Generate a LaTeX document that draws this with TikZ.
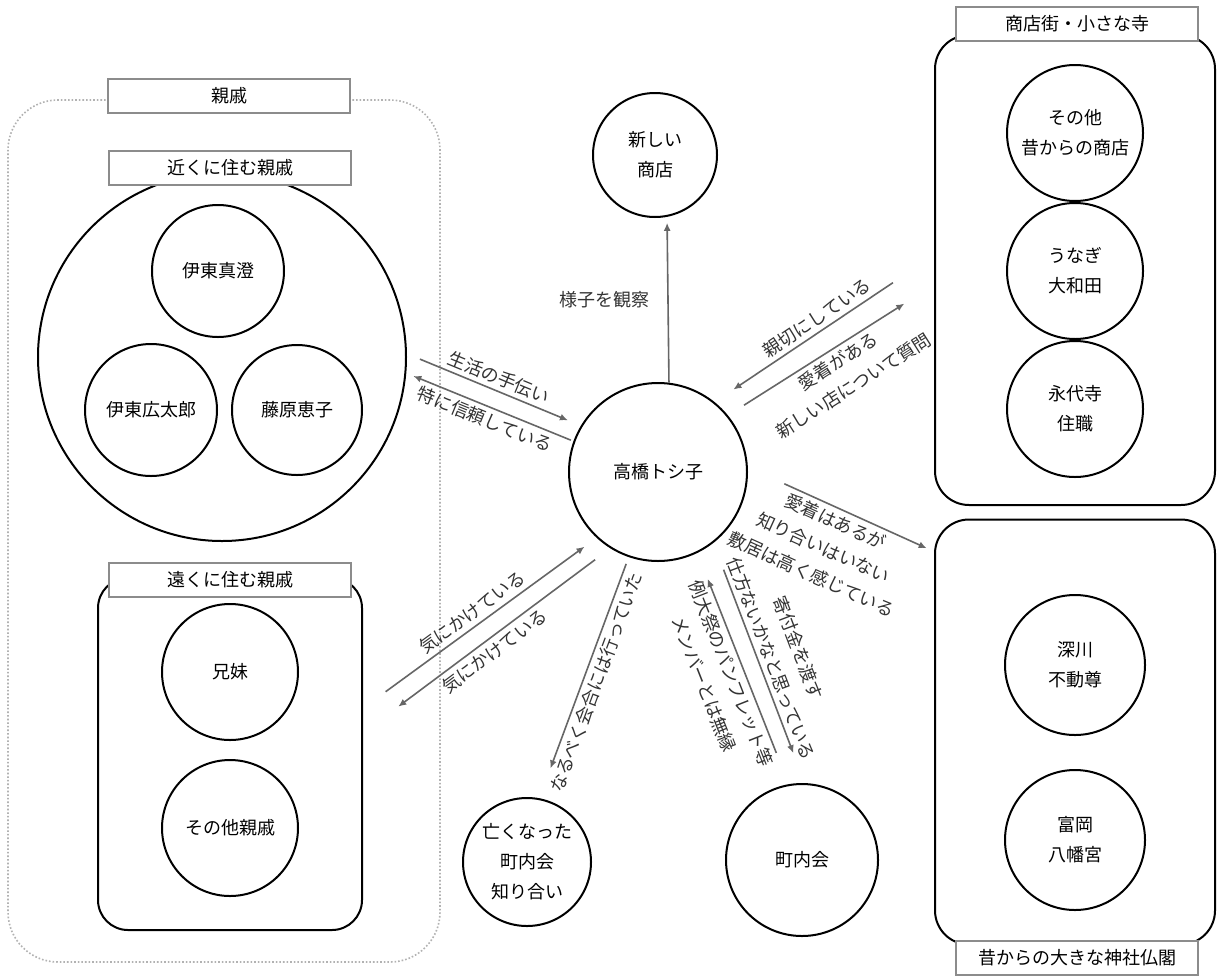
\documentclass[tikz,border=0pt]{standalone}
\usepackage{fontspec}
\setmainfont{Noto Sans CJK JP}
\usetikzlibrary{arrows.meta,positioning}

\begin{document}
\begin{tikzpicture}[
    x=0.5pt, y=-0.5pt,
    person/.style={circle, draw=black, line width=1pt, align=center, inner sep=0pt, font=\fontsize{9}{15}\selectfont},
    groupbox/.style={rectangle, rounded corners=17pt, draw=black, line width=1pt},
    headbox/.style={rectangle, draw=black!45, line width=1.2pt, fill=white, minimum width=121pt, minimum height=17pt, inner sep=0pt, font=\fontsize{9}{11}\selectfont},
    lbl/.style={font=\fontsize{9}{14.5}\selectfont, text=black!80, align=center, inner sep=2pt},
    arr/.style={->, draw=black!60, line width=0.8pt},
    >={Latex[length=4pt,width=3.5pt]}
]
\fill[white] (0,0) rectangle (1220,975);
\useasboundingbox (0,0) rectangle (1220,975);

% relatives
\node[draw=black!30, densely dotted, line width=0.8pt, rounded corners=25pt, minimum width=216pt, minimum height=431pt] (shinseki) at (224,531) {};
\node[headbox] (shinsekit) at (229,96) {親戚};
\node[person, minimum size=184pt] (kin) at (222,357) {};
\node[headbox] (kint) at (230,168) {近くに住む親戚};
\node[person, minimum size=66pt] (masumi) at (218,271) {伊東真澄};
\node[person, minimum size=66pt] (kotaro) at (151,410) {伊東広太郎};
\node[person, minimum size=65pt] (keiko) at (297,410) {藤原恵子};
\node[groupbox, rounded corners=15pt, minimum width=132pt, minimum height=176pt] (tooi) at (230,754) {};
\node[headbox] (tooit) at (230,580) {遠くに住む親戚};
\node[person, minimum size=68pt] (kyodai) at (230,672) {兄妹};
\node[person, minimum size=68pt, below=9pt of kyodai] (sonota) {その他親戚};

% centre and others
\node[person, minimum size=89pt] (toshiko) at (658,472) {高橋トシ子};
\node[person, minimum size=62pt] (shinten) at (655,155) {新しい\\商店};
\node[person, minimum size=64pt] (naku) at (527,862) {亡くなった\\町内会\\知り合い};
\node[person, minimum size=76pt] (chonai) at (802,860) {町内会};

% shops and temples
\node[groupbox, minimum width=140pt, minimum height=235pt] (shoten) at (1075,270) {};
\node[headbox] (shotent) at (1077,24) {商店街・小さな寺};
\node[person, minimum size=68pt] (mukashi) at (1075,133) {その他\\昔からの商店};
\node[person, minimum size=68pt, below=0pt of mukashi] (unagi) {うなぎ\\大和田};
\node[person, minimum size=68pt, below=0pt of unagi] (eitaiji) {永代寺\\住職};
\node[groupbox, minimum width=140pt, minimum height=212.5pt] (jisha) at (1075,732) {};
\node[headbox] (jishat) at (1077,958) {昔からの大きな神社仏閣};
\node[person, minimum size=70pt] (fudo) at (1075,665) {深川\\不動尊};
\node[person, minimum size=70pt, below=16.5pt of fudo] (hachiman) {富岡\\八幡宮};

% connectors
\draw[arr, shorten <=7pt, shorten >=7pt] (kin.1) -- node[lbl, sloped, above] {生活の手伝い} (toshiko.149);
\draw[arr, shorten <=1.4pt, shorten >=3.8pt] (toshiko.160) -- node[lbl, sloped, below] {特に信頼している} (kin.-5);
\draw[arr, shorten >=3pt] (toshiko.83) -- node[lbl, left=7pt] {様子を観察} (shinten.-79);
\draw[arr, shorten <=24.7pt, shorten >=11.3pt] (shoten.174) -- node[lbl, sloped, above] {親切にしている} (toshiko.51);
\draw[arr, shorten <=9.5pt, shorten >=17.6pt] (toshiko.39) -- node[lbl, sloped, below] {愛着がある\\新しい店について質問} (shoten.186);
\draw[arr, shorten <=20pt, shorten >=4pt] (toshiko.3) -- node[lbl, sloped, below] {愛着はあるが\\知り合いはいない\\敷居は高く感じている} (jisha.128);
\draw[arr, shorten <=14pt, shorten >=7.5pt] (tooi.19) -- node[lbl, sloped, above] {気にかけている} (toshiko.-133);
\draw[arr, shorten <=9.5pt, shorten >=22pt] (toshiko.-122) -- node[lbl, sloped, below] {気にかけている} (tooi.9);
\draw[arr, shorten <=3.6pt, shorten >=15.9pt] (toshiko.-109) -- node[lbl, sloped, below] {なるべく会合には行っていた} (naku.79);
\draw[arr, shorten <=16.8pt, shorten >=14pt] (chonai.100) -- node[lbl, sloped, below] {例大祭のパンフレット等\\メンバーとは無縁} (toshiko.-64);
\draw[arr, shorten <=14.3pt, shorten >=16pt] (toshiko.-52) -- node[lbl, sloped, above] {寄付金を渡す\\仕方ないかなと思っている} (chonai.88);

\end{tikzpicture}
\end{document}
